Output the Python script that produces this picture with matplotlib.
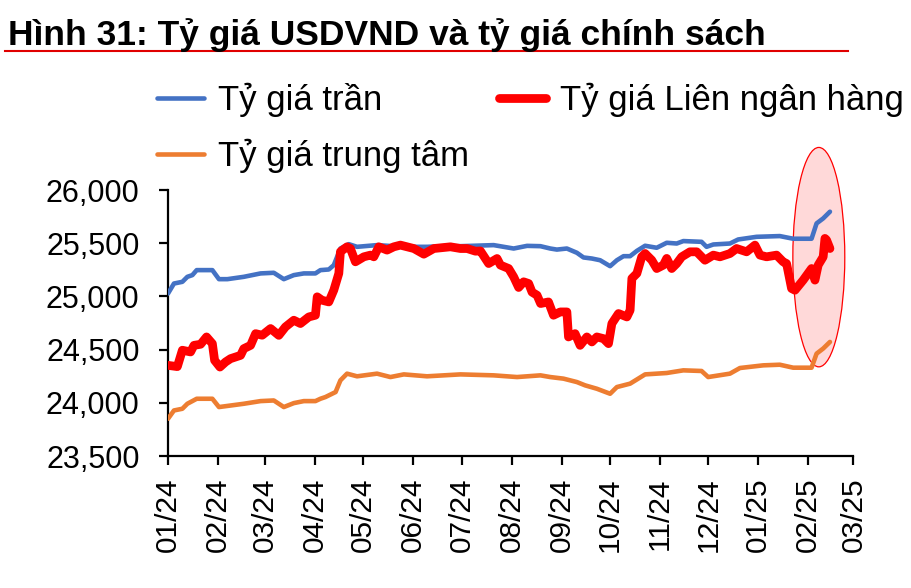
import matplotlib
matplotlib.use("Agg")
import matplotlib.pyplot as plt
import matplotlib.dates as mdates
from matplotlib.patches import Ellipse
from matplotlib.lines import Line2D
from matplotlib.ticker import FuncFormatter
import pandas as pd

plt.rcParams['font.family'] = ['Liberation Sans', 'DejaVu Sans']

TITLE = "Hình 31: Tỷ giá USDVND và tỷ giá chính sách"
LABEL_CEIL = "Tỷ giá trần"
LABEL_INTER = "Tỷ giá Liên ngân hàng"
LABEL_CENTRAL = "Tỷ giá trung tâm"

# Day offsets from 2024-01-01 and values
ceil_days = [0, 3.7, 8.9, 12, 15.1, 17.8, 27.5, 31.6, 36.8, 47, 57.4, 65.6, 71.8, 78, 84.2, 91.4,
             94.5, 99.7, 102.8, 106.9, 112.1, 117.2, 129.6, 140, 152.4, 160.6, 170.9, 181.3,
             201.9, 214.3, 222.6, 230.9, 237, 241.1, 247.3, 253.5, 257.6, 262.8, 267.9, 274.1,
             278.3, 282.4, 286.5, 290.7, 295.8, 303, 309.2, 315.4, 319.5, 330.8, 333.9, 338.1,
             348.4, 353.5, 364.9, 379.3, 387.6, 399, 402.1, 406.2, 410.4]
ceil_vals = [25027, 25121, 25137, 25184, 25200, 25247, 25247, 25162, 25162, 25184, 25216, 25222,
             25162, 25200, 25216, 25216, 25247, 25253, 25294, 25450, 25491, 25466, 25482, 25472,
             25466, 25466, 25472, 25472, 25482, 25450, 25475, 25472, 25450, 25440, 25450, 25410,
             25366, 25356, 25340, 25284, 25340, 25378, 25378, 25428, 25476, 25457, 25504, 25497,
             25520, 25513, 25466, 25488, 25497, 25535, 25560, 25567, 25542, 25542, 25686, 25733,
             25796]

inter_days = [0, 5.8, 8.9, 14, 16.1, 20.2, 23.9, 27.5, 28.9, 32.2, 35.7, 38.8, 45, 47, 51.2, 54.3,
              58.4, 63.6, 68.7, 72.8, 78, 82.1, 87.3, 91.4, 92.5, 95.5, 99.7, 102.8, 105.9, 106.9,
              111, 113.1, 116.2, 121.4, 125.5, 127.6, 130.7, 135.8, 140, 144.1, 152.4, 158.6,
              164.8, 175.1, 181.3, 185.4, 190.6, 193.7, 198.8, 204, 206.1, 211.2, 214.3, 217.4,
              220.5, 223.6, 225.7, 228.8, 231, 235.9, 239, 243.2, 247.3, 248.3, 252.4, 255.5,
              259.7, 262.8, 265.9, 270, 273.1, 275.2, 279.3, 284.5, 286.5, 287.6, 290.7, 293.7,
              295.8, 299.9, 303, 307.1, 309.2, 312.3, 315.4, 318.5, 323.6, 327.8, 332.9, 338.1,
              342.2, 348.4, 352.5, 358.7, 363.9, 367, 371.1, 377.3, 381.4, 383.5, 386.6, 388.7,
              393.8, 399, 401.1, 403.1, 406.2, 407.3, 408.3, 410.4]
inter_vals = [24352, 24340, 24494, 24478, 24540, 24550, 24619, 24556, 24399, 24336, 24384, 24415,
              24446, 24509, 24540, 24650, 24635, 24698, 24634, 24713, 24776, 24745, 24807, 24823,
              24996, 24964, 24948, 25059, 25216, 25420, 25466, 25450, 25325, 25372, 25388, 25372,
              25466, 25435, 25466, 25482, 25450, 25397, 25450, 25466, 25450, 25450, 25425, 25427,
              25309, 25356, 25294, 25262, 25184, 25084, 25137, 25121, 25040, 25011, 24933, 24948,
              24823, 24854, 24854, 24619, 24650, 24540, 24619, 24572, 24619, 24603, 24556, 24745,
              24839, 24807, 24870, 25169, 25216, 25372, 25403, 25341, 25262, 25294, 25357, 25262,
              25309, 25372, 25419, 25419, 25340, 25388, 25372, 25403, 25450, 25419, 25482, 25388,
              25372, 25388, 25325, 25309, 25074, 25058, 25153, 25262, 25153, 25294, 25372, 25545,
              25530, 25450]

central_days = [0, 3.7, 8.9, 12, 17.8, 27.5, 31.6, 47, 57.4, 65.6, 71.8, 78, 84.2, 91.4, 94.5,
                97.6, 103.9, 106.9, 111, 117.2, 129.6, 137.9, 146.2, 160.6, 181.3, 201.9, 216.4,
                230.9, 237, 245.2, 253.5, 258.6, 265.9, 274.1, 278.3, 286.5, 295.8, 309.2, 319.5,
                330.8, 334.9, 348.4, 354.6, 369, 379.3, 387.6, 399, 402.1, 406.2, 410.4]
central_vals = [23850, 23928, 23944, 23991, 24038, 24038, 23960, 23991, 24016, 24022, 23960, 23997,
                24016, 24016, 24038, 24054, 24101, 24211, 24274, 24249, 24274, 24242, 24267, 24249,
                24267, 24258, 24242, 24258, 24242, 24227, 24195, 24164, 24132, 24085, 24148, 24180,
                24267, 24280, 24305, 24299, 24242, 24274, 24327, 24352, 24358, 24330, 24330, 24462,
                24510, 24572]

START = pd.Timestamp("2024-01-01")
END = pd.Timestamp("2025-03-01")
Y_TICKS = [23500, 24000, 24500, 25000, 25500, 26000]


def to_dates(days):
    return [START + pd.Timedelta(days=d) for d in days]


fig = plt.figure(figsize=(9.12, 5.88), dpi=100)
ax = fig.add_axes([168 / 912, 1 - 456 / 588, (853.5 - 168) / 912, (456 - 190) / 588])

BLUE = "#4472C4"
RED = "#FF0000"
ORANGE = "#ED7D31"

l_ceil, = ax.plot(to_dates(ceil_days), ceil_vals, color=BLUE, lw=3.3, solid_capstyle='round',
                  solid_joinstyle='round', zorder=3, label=LABEL_CEIL)
l_cent, = ax.plot(to_dates(central_days), central_vals, color=ORANGE, lw=3.3, solid_capstyle='round',
                  solid_joinstyle='round', zorder=3, label=LABEL_CENTRAL)
l_inter, = ax.plot(to_dates(inter_days), inter_vals, color=RED, lw=6.3, solid_capstyle='round',
                   solid_joinstyle='round', zorder=4, label=LABEL_INTER)

# highlight ellipse (annotation)
ell_center = mdates.date2num(START + pd.Timedelta(days=403.5))
ell = Ellipse((ell_center, 25369), width=32.2, height=2062, facecolor="#FFD9D9",
              edgecolor="#FF0000", lw=0.9, zorder=2, clip_on=False)
ax.add_patch(ell)

ax.set_xlim(START, END)
ax.set_ylim(23500, 26000)
ax.xaxis.set_major_locator(mdates.MonthLocator())
ax.xaxis.set_major_formatter(mdates.DateFormatter("%m/%y"))
ax.set_yticks(Y_TICKS)
ax.yaxis.set_major_formatter(FuncFormatter(lambda v, p: f"{int(v):,}"))

for s in ['top', 'right']:
    ax.spines[s].set_visible(False)
for s in ['left', 'bottom']:
    ax.spines[s].set_linewidth(1.6)
    ax.spines[s].set_color('black')

ax.tick_params(axis='y', direction='out', length=6.5, width=1.6, labelsize=22, pad=14)
ax.tick_params(axis='x', direction='out', length=6.5, width=1.6, labelsize=21.5, pad=9,
               labelrotation=90)

leg = ax.legend(handles=[l_ceil, l_cent, l_inter], ncol=2, loc='upper left',
                bbox_to_anchor=(157 / 912, 1 - 83 / 588), bbox_transform=fig.transFigure,
                frameon=False, fontsize=25, handlelength=1.35, handletextpad=0.42,
                columnspacing=0.85, labelspacing=0.62, borderpad=0, borderaxespad=0)
for h in leg.get_lines():
    h.set_solid_capstyle('round')

fig.text(8 / 912, 1 - 45 / 588, TITLE, fontsize=25.5, fontweight='bold', va='baseline', ha='left')
fig.add_artist(Line2D([5 / 912, 848 / 912], [1 - 51 / 588, 1 - 51 / 588], color="#E00000",
                      lw=1.5, transform=fig.transFigure))

fig.savefig("out.png", dpi=100)
